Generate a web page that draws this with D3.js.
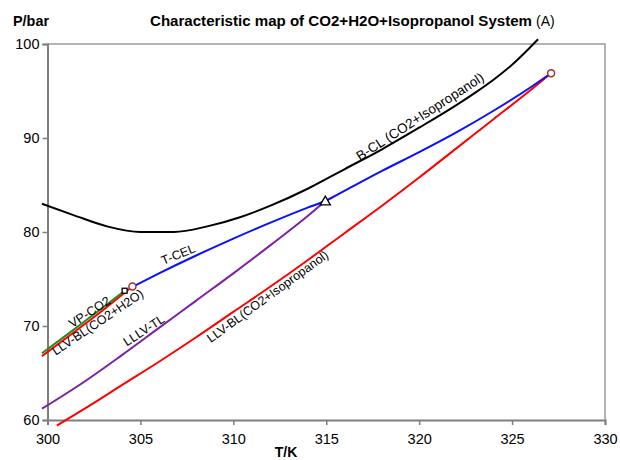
<!DOCTYPE html>
<html>
<head>
<meta charset="utf-8">
<script src="https://cdn.jsdelivr.net/npm/d3@7/dist/d3.min.js"></script>
<style>
  html, body { margin: 0; padding: 0; background: #fff; }
  svg { display: block; font-family: "Liberation Sans", Arial, sans-serif; }
</style>
</head>
<body>
<svg id="chart" width="620" height="460"></svg>
<script>
// Temperature / pressure data for each phase-boundary curve (T in K, P in bar)
const bclT  = [299.7, 301.4, 303.2, 305.0, 306.8, 308.6, 310.4, 312.0, 314.0, 316.0, 318.0, 320.0, 322.0, 323.0, 324.0, 325.0, 326.0, 326.4];
const bclP  = [83.0, 81.8, 80.6, 80.0, 80.0, 80.6, 81.6, 82.8, 84.6, 86.7, 88.8, 91.1, 93.5, 94.8, 96.2, 97.8, 99.7, 100.5];

const tcelT = [304.6, 306.0, 308.0, 310.0, 312.0, 314.0, 314.95, 316.0, 318.0, 320.0, 322.0, 324.0, 326.0, 327.1];
const tcelP = [74.2, 75.6, 77.5, 79.3, 81.0, 82.6, 83.3, 84.4, 86.5, 88.5, 90.6, 92.9, 95.4, 96.9];

const lllvT = [299.7, 302.0, 304.0, 306.0, 308.0, 310.0, 312.0, 314.0, 314.95];
const lllvP = [61.2, 64.1, 66.9, 69.8, 72.7, 75.6, 78.6, 81.7, 83.3];

const llvIsoT = [300.5, 302.0, 304.0, 306.0, 308.0, 310.0, 312.0, 314.0, 316.0, 318.0, 320.0, 322.0, 324.0, 326.0, 327.1];
const llvIsoP = [59.4, 61.2, 63.7, 66.2, 68.8, 71.5, 74.2, 77.0, 79.9, 82.8, 85.8, 88.9, 92.0, 95.1, 96.9];

const llvH2oT = [299.7, 301.0, 302.0, 303.0, 304.0, 304.57];
const llvH2oP = [66.8, 68.7, 70.2, 71.7, 73.3, 74.2];

const vpT = [299.7, 301.0, 302.0, 303.0, 304.15];
const vpP = [67.1, 69.0, 70.5, 72.0, 73.75];

// Special points: end points (circles), tricritical point (triangle), CO2 critical point (square)
const circleT = [304.57, 327.1];
const circleP = [74.2, 96.9];
const triangleT = [314.95];
const triangleP = [83.3];
const cpT = [304.15];
const cpP = [73.75];

const xTicks = [300, 305, 310, 315, 320, 325, 330];
const yTicks = [60, 70, 80, 90, 100];

const svg = d3.select("#chart");
const x = d3.scaleLinear().domain([300, 330]).range([47.5, 605]);
const y = d3.scaleLinear().domain([60, 100]).range([420, 44]);

// Plot frame (top and right edges)
svg.append("path")
  .attr("d", `M${x(300)},${y(100)}H${x(330)}V${y(60)}`)
  .attr("fill", "none").attr("stroke", "#9a9a9a").attr("stroke-width", 1.5);

// Axes
const xAxis = svg.append("g").attr("transform", `translate(0,${y(60)})`)
  .call(d3.axisBottom(x).tickValues(xTicks).tickSize(5).tickPadding(9).tickFormat(d3.format("d")));
const yAxis = svg.append("g").attr("transform", `translate(${x(300)},0)`)
  .call(d3.axisLeft(y).tickValues(yTicks).tickSize(5).tickPadding(3).tickFormat(d3.format("d")));
[xAxis, yAxis].forEach(g => {
  g.select(".domain").attr("stroke", "#7f7f7f").attr("stroke-width", 2);
  g.selectAll(".tick line").attr("stroke", "#7f7f7f").attr("stroke-width", 1.5);
  g.selectAll(".tick text").attr("fill", "#000").attr("font-size", 14.5)
    .attr("font-family", "'Liberation Sans', Arial, sans-serif");
});

// Curves
const line = d3.line().x(d => x(d[0])).y(d => y(d[1])).curve(d3.curveMonotoneX);
const zip = (a, b) => a.map((v, i) => [v, b[i]]);
const curves = [
  { t: bclT,    p: bclP,    color: "#000000" },
  { t: lllvT,   p: lllvP,   color: "#7a22a6" },
  { t: llvIsoT, p: llvIsoP, color: "#ff0000" },
  { t: tcelT,   p: tcelP,   color: "#0a10ff" },
  { t: llvH2oT, p: llvH2oP, color: "#ff0000" },
  { t: vpT,     p: vpP,     color: "#1f8a1f" }
];
svg.append("g").selectAll("path").data(curves).join("path")
  .attr("d", c => line(zip(c.t, c.p)))
  .attr("fill", "none").attr("stroke", c => c.color)
  .attr("stroke-width", 2).attr("stroke-linejoin", "round");

// Markers
svg.append("g").selectAll("circle").data(zip(circleT, circleP)).join("circle")
  .attr("cx", d => x(d[0])).attr("cy", d => y(d[1])).attr("r", 3.5)
  .attr("fill", "#fff").attr("stroke", "#a03030").attr("stroke-width", 1.5);
svg.append("g").selectAll("path").data(zip(triangleT, triangleP)).join("path")
  .attr("d", d3.symbol(d3.symbolTriangle, 44))
  .attr("transform", d => `translate(${x(d[0])},${y(d[1]) + 1})`)
  .attr("fill", "#fff").attr("stroke", "#000").attr("stroke-width", 1.3);
svg.append("g").selectAll("rect").data(zip(cpT, cpP)).join("rect")
  .attr("x", d => x(d[0]) - 2.5).attr("y", d => y(d[1]) - 2.5)
  .attr("width", 5).attr("height", 5)
  .attr("fill", "#fff").attr("stroke", "#000").attr("stroke-width", 1.3);

// Curve labels placed on their curves
const labelText = ["VP-CO2", "LLV-BL(CO2+H2O)", "T-CEL", "LLLV-TL", "LLV-BL(CO2+Isopropanol)", "B-CL (CO2+Isopropanol)"];
const labelSpec = [
  { t: 302.5, p: 70.75, rot: -33, dy: -4, size: 12.5 },
  { t: 302.5, p: 71.0, rot: -34, dy: 11, size: 12.5 },
  { t: 307.2, p: 76.8, rot: -22, dy: -4, size: 12.5 },
  { t: 305.4, p: 68.9, rot: -33, dy: -3, size: 12.5 },
  { t: 311.6, p: 73.8, rot: -36, dy: 12, size: 12.5 },
  { t: 320.3, p: 91.5, rot: -33, dy: -4, size: 13.5 }
];
svg.append("g").selectAll("text").data(labelText).join("text")
  .attr("transform", (d, i) => `translate(${x(labelSpec[i].t)},${y(labelSpec[i].p)}) rotate(${labelSpec[i].rot})`)
  .attr("y", (d, i) => labelSpec[i].dy)
  .attr("text-anchor", "middle").attr("font-size", (d, i) => labelSpec[i].size).attr("fill", "#000")
  .text(d => d);

// Titles
const title = svg.append("text").attr("x", 150).attr("y", 26).attr("font-size", 14).attr("fill", "#000");
title.append("tspan").attr("font-weight", "bold")
  .attr("textLength", 382).attr("lengthAdjust", "spacingAndGlyphs")
  .text("Characteristic map of CO2+H2O+Isopropanol System");
title.append("tspan").attr("dx", 4).text("(A)");

svg.append("text").attr("x", 13).attr("y", 26).attr("font-size", 14)
  .attr("font-weight", "bold").attr("textLength", 36).attr("lengthAdjust", "spacingAndGlyphs").text("P/bar");
svg.append("text").attr("x", 286).attr("y", 457).attr("font-size", 14)
  .attr("font-weight", "bold").attr("text-anchor", "middle").text("T/K");
</script>
</body>
</html>
